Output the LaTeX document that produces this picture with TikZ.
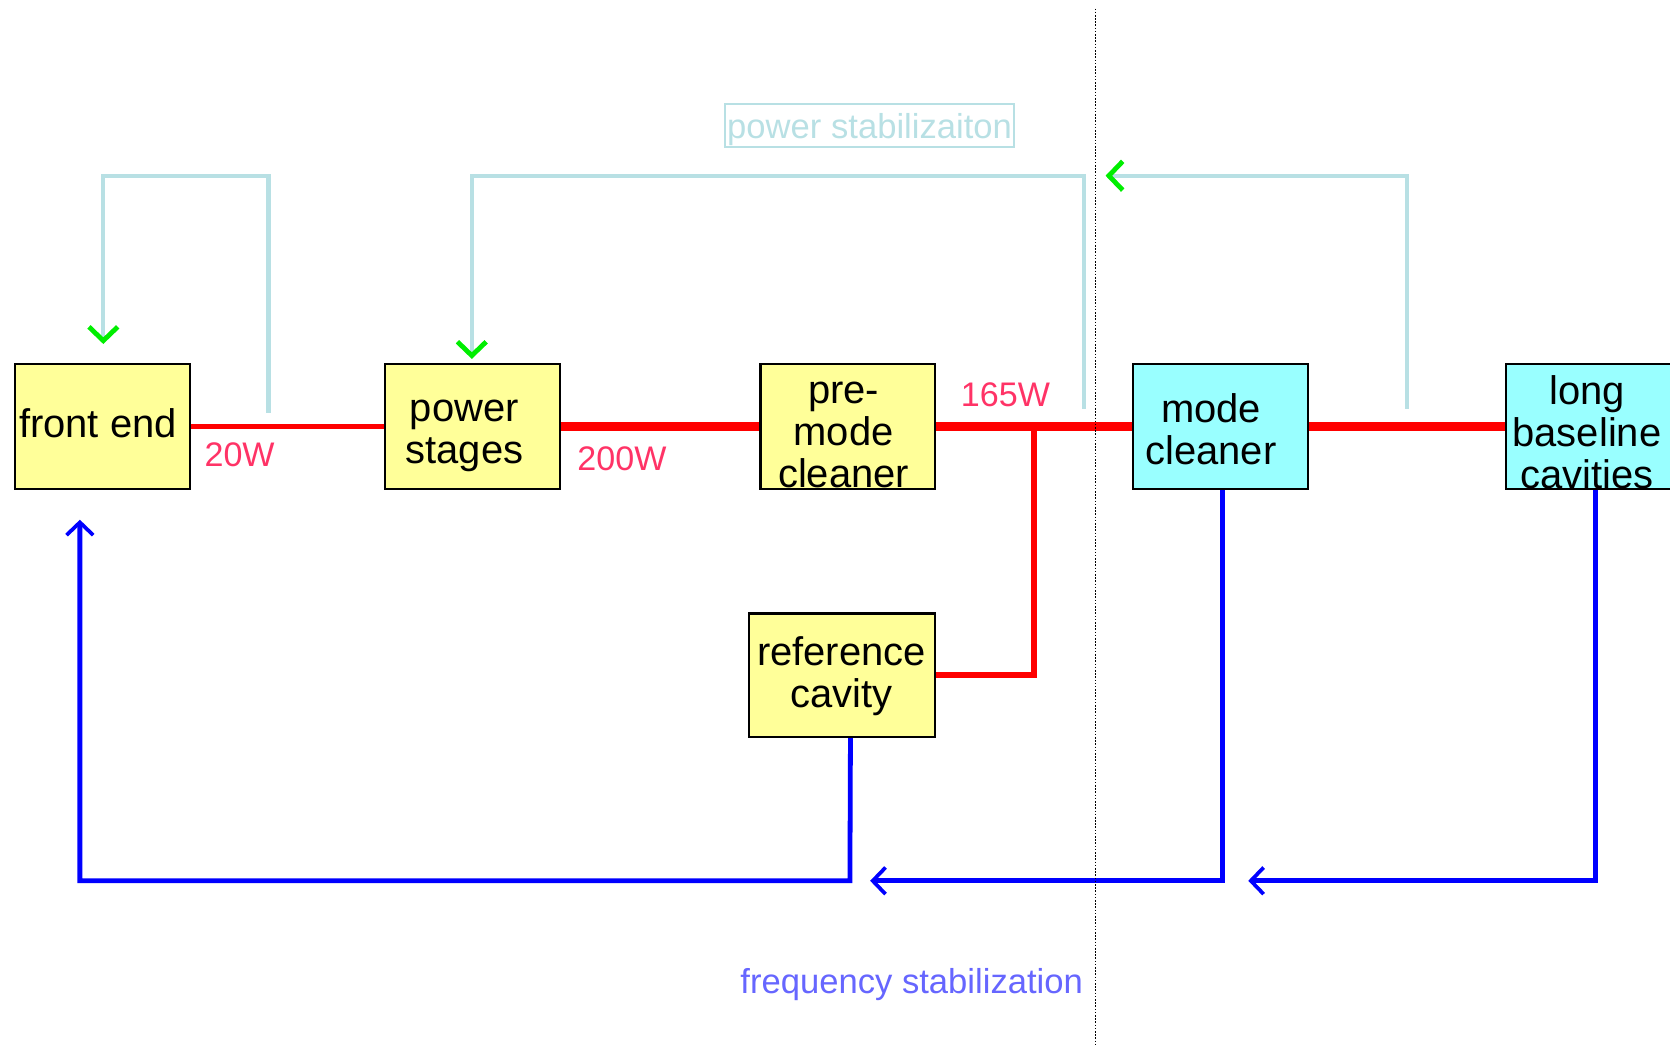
\documentclass[tikz,border=0pt]{standalone}
\usepackage{fontspec}
\setmainfont{Liberation Sans}
\usetikzlibrary{arrows.meta}
\definecolor{boxyellow}{HTML}{FFFF99}
\definecolor{boxcyan}{HTML}{99FFFF}
\definecolor{wattred}{HTML}{FF3366}
\definecolor{lightfb}{HTML}{B8E0E4}
\definecolor{arrowgreen}{HTML}{00EE00}
\definecolor{beamblue}{HTML}{0000FF}
\definecolor{freqblue}{HTML}{6666FF}
\tikzset{
 box/.style={draw=black, line width=2pt, minimum width=164pt, minimum height=117pt, inner sep=0pt},
 ybox/.style={box, fill=boxyellow},
 cbox/.style={box, fill=boxcyan},
 txt/.style={font=\fontsize{37.5}{39.5}\selectfont, align=center, inner sep=0pt},
 watt/.style={font=\fontsize{32}{36}\selectfont, text=wattred, inner sep=0pt},
 beam/.style={draw=red, line width=9pt},
 thinbeam/.style={draw=red, line width=4.5pt},
 pstab/.style={draw=lightfb, line width=4pt},
 fstab/.style={draw=beamblue, line width=4.5pt},
 gtip/.style={-{Straight Barb[color=arrowgreen,length=13pt,width=27pt,line width=4.5pt]}},
 btip/.style={-{Straight Barb[color=beamblue,length=12pt,width=25pt,line width=3.5pt]}},
}
\begin{document}
\begin{tikzpicture}[x=1pt,y=-1pt]
\useasboundingbox (0,0) rectangle (1568,981);

% boxes
\node[ybox] (fe) at (96,400.5) {};
\node[ybox] (pst) at (443.5,400.5) {};
\node[ybox] (pmc) at (796,400.5) {};
\node[cbox] (mc) at (1146,400.5) {};
\node[cbox] (lbc) at (1496,400.5) {};
\node[ybox, minimum width=175pt, minimum height=116pt] (ref) at (790.5,634) {};

% box texts
\node[txt] (fe-t) at (92,397) {front end};
\node[txt] (pst-t) at (436,409) {power\\stages};
\node[txt] (pmc-t) at (792,408) {pre-\\mode\\cleaner};
\node[txt] (mc-t) at (1137,403) {mode\\cleaner};
\node[txt] (lbc-t) at (1490,406) {long\\baseline\\cavities};
\node[txt] (ref-t) at (790,635) {reference\\cavity};

% red beams
\draw[thinbeam] (fe.east) -- (pst.west);
\draw[beam] (pst.east) -- (pmc.west);
\draw[beam] (pmc.east) -- (mc.west);
\draw[beam] (mc.east) -- (lbc.west);
\coordinate (split) at (971,398);
\draw[draw=red, line width=5.5pt] (split) |- (ref.east);

% power labels
\node[watt] (w20) at (225,427) {20W};
\node[watt] (w200) at (584,431) {200W};
\node[watt] (w165) at (944,371) {165W};

% power stabilization loops
\coordinate (ps1s) at (252,388);
\coordinate (ps1e) at (97,323);
\draw[pstab, gtip] (ps1s) -- (252,165) -- (97,165) -- (ps1e);
\coordinate (ps2s) at (1018,384);
\coordinate (ps2e) at (443,337);
\draw[pstab, gtip] (ps2s) -- (1018,165) -- (443,165) -- (ps2e);
\coordinate (ps3s) at (1321,384);
\coordinate (ps3e) at (1038,165);
\draw[pstab, gtip] (ps3s) -- (1321,165) -- (ps3e);

\node[draw=lightfb, line width=2pt, minimum width=271pt, minimum height=40pt, inner sep=0pt] (pslabel) at (816.5,118) {};
\node[text=lightfb, font=\fontsize{32.5}{36}\selectfont, inner sep=0pt] (pslabel-t) at (816.5,122) {power stabilizaiton};

% frequency stabilization loops
\coordinate (fs1e) at (75,488);
\draw[fstab, btip] ([xshift=8pt]ref.south) -- (798,827) -- (75,827) -- (fs1e);
\coordinate (fs2e) at (817,827);
\draw[fstab, btip] ([xshift=2pt]mc.south) -- (1148,827) -- (fs2e);
\coordinate (fs3e) at (1172,827);
\draw[fstab, btip] ([xshift=2pt]lbc.south) -- (1498,827) -- (fs3e);

\node[text=freqblue, font=\fontsize{32.5}{36}\selectfont, inner sep=0pt] (fslabel) at (856,924) {frequency stabilization};

% boundary
\coordinate (dtop) at (1029,8);
\coordinate (dbot) at (1029,981);
\draw[black, line width=1pt, dash pattern=on 1.5pt off 1.5pt] (dtop) -- (dbot);
\end{tikzpicture}
\end{document}
